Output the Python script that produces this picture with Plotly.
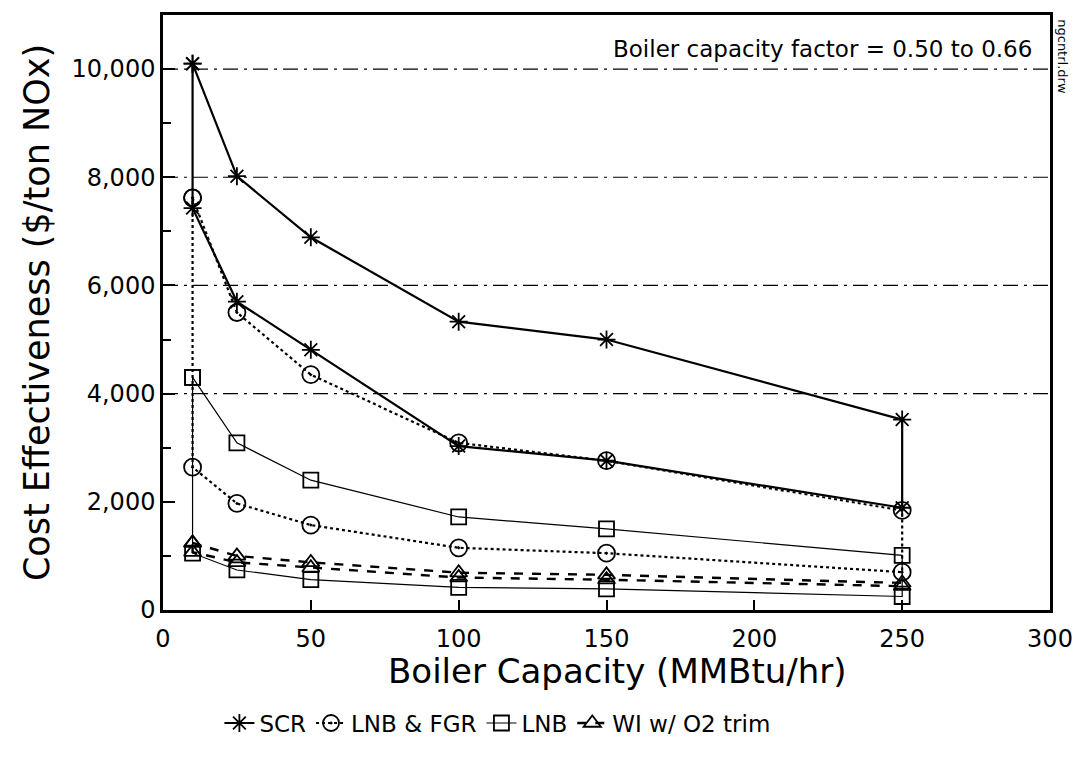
import plotly.graph_objects as go

capacity = [10, 25, 50, 100, 150, 250]

scr_high = [10100, 8020, 6890, 5330, 5000, 3520]
scr_low = [7430, 5700, 4810, 3030, 2760, 1890]
fgr_high = [7620, 5500, 4350, 3090, 2760, 1840]
fgr_low = [2640, 1970, 1570, 1150, 1050, 700]
lnb_high = [4300, 3090, 2400, 1720, 1500, 1010]
lnb_low = [1050, 740, 560, 420, 390, 250]
wi_high = [1240, 1000, 880, 690, 650, 500]
wi_low = [1070, 880, 780, 600, 560, 440]

names = ["SCR", "LNB & FGR", "LNB", "WI w/ O2 trim"]
highs = [scr_high, fgr_high, lnb_high, wi_high]
lows = [scr_low, fgr_low, lnb_low, wi_low]
gridvals = [4000, 6000, 8000, 10000]

styles = [
    dict(line=dict(color="black", width=2.2, dash="solid"), symbol="asterisk-open", size=15),
    dict(line=dict(color="black", width=2.2, dash="dot"), symbol="circle-open-dot", size=17),
    dict(line=dict(color="black", width=1.2, dash="solid"), symbol="square-open", size=15),
    dict(line=dict(color="black", width=2.4, dash="dash"), symbol="triangle-up-open", size=15),
]

fig = go.Figure()
for name, hi, lo, st in zip(names, highs, lows, styles):
    xs = capacity + capacity[::-1] + [capacity[0]]
    ys = hi + lo[::-1] + [hi[0]]
    fig.add_trace(go.Scatter(
        x=xs, y=ys, mode="lines+markers", name=name,
        line=st["line"],
        marker=dict(symbol=st["symbol"], size=st["size"], color="black",
                    line=dict(color="black", width=1.8)),
    ))

for g in gridvals:
    fig.add_shape(type="line", xref="x", yref="y", x0=0, x1=300, y0=g, y1=g,
                  line=dict(color="black", width=1.2, dash="longdashdot"), layer="below")

font_family = "DejaVu Sans"
fig.update_layout(
    width=1072, height=753,
    margin=dict(l=155, r=30, t=4, b=151),
    paper_bgcolor="white", plot_bgcolor="white",
    font=dict(family=font_family, color="black"),
    showlegend=True,
    legend=dict(orientation="h", x=0.377, xanchor="center", y=-0.19, yanchor="middle",
                font=dict(size=23, family=font_family),
                bgcolor="rgba(0,0,0,0)"),
    xaxis=dict(
        range=[0, 300], tickvals=[0, 50, 100, 150, 200, 250, 300],
        ticks="inside", ticklen=10, tickwidth=1.5, tickcolor="black",
        showline=True, linecolor="black", linewidth=2.5, mirror=True,
        showgrid=False, zeroline=False, ticklabelstandoff=5,
        tickfont=dict(size=24, family=font_family),
    ),
    yaxis=dict(
        range=[0, 11000], tickvals=[0, 2000, 4000, 6000, 8000, 10000],
        tickformat=",d",
        ticks="inside", ticklen=12, tickwidth=1.5, tickcolor="black",
        minor=dict(dtick=1000, ticks="inside", ticklen=8, tickwidth=1.5, tickcolor="black"),
        showline=True, linecolor="black", linewidth=2.5, mirror=True,
        showgrid=False, zeroline=False,
        tickfont=dict(size=24, family=font_family),
        title=dict(text="Cost Effectiveness ($/ton NOx)", font=dict(size=35, family=font_family), standoff=12),
    ),
    annotations=[
        dict(text="Boiler Capacity (MMBtu/hr)", xref="paper", yref="paper",
             x=0.512, y=-0.103, xanchor="center", yanchor="middle", showarrow=False,
             font=dict(size=34, family=font_family)),
        dict(text="Boiler capacity factor = 0.50 to 0.66", xref="paper", yref="paper",
             x=0.982, y=0.943, xanchor="right", yanchor="middle", showarrow=False,
             font=dict(size=23, family=font_family)),
        dict(text="ngcntrl.drw", xref="paper", yref="paper", x=1.0147, y=0.997,
             xanchor="center", yanchor="top", textangle=90, showarrow=False,
             font=dict(size=13, family=font_family)),
    ],
)

fig.write_html("out.html")
